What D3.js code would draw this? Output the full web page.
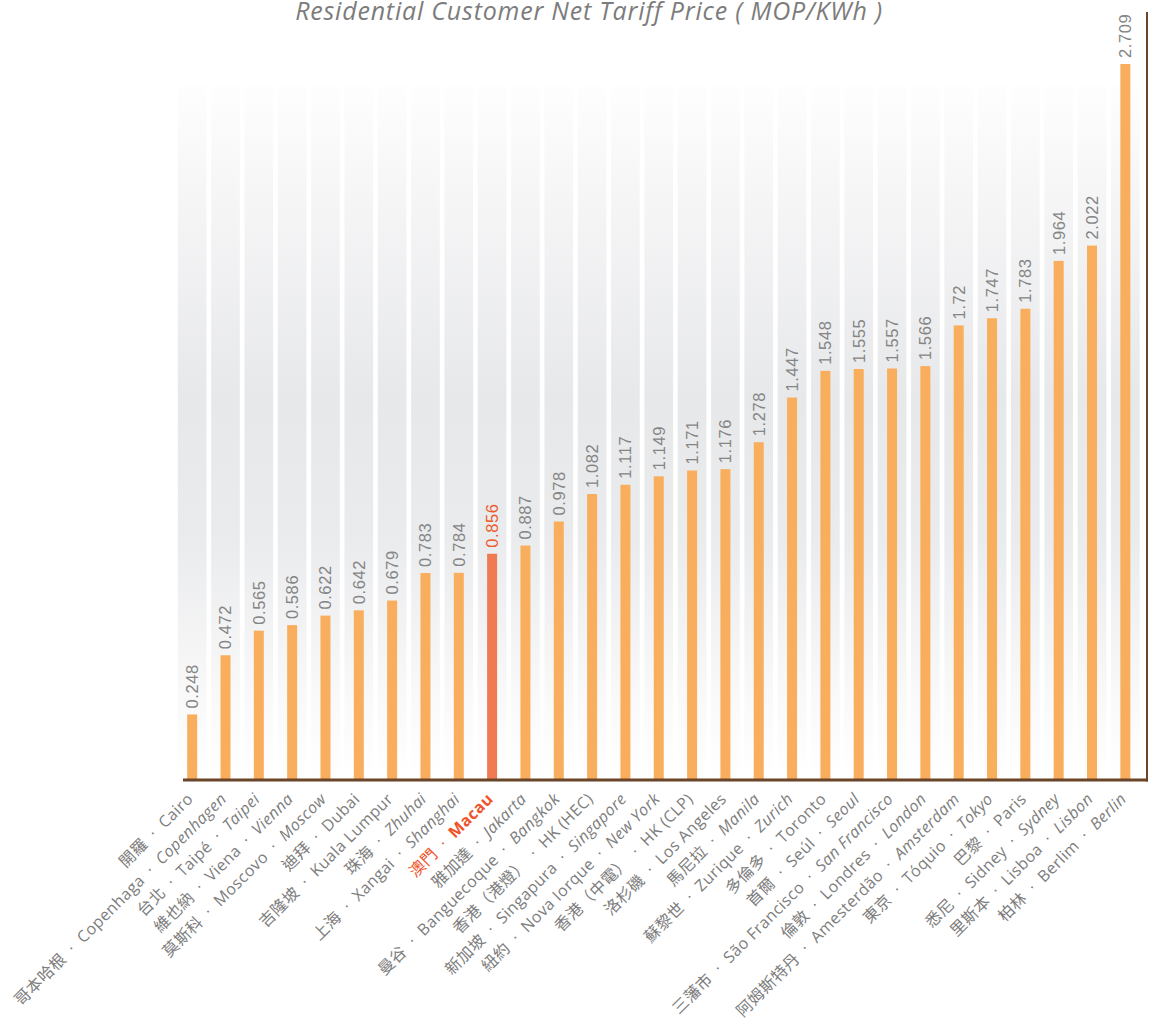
<!DOCTYPE html>
<html lang="en">
<head>
    <meta charset="UTF-8">
    <title>Residential Customer Net Tariff Price</title>
    <script src="https://d3js.org/d3.v7.min.js"></script>
    <style>
        body { margin: 0; background: #fff; }
        svg { display: block; }
    </style>
</head>
<body>
<div id="chart"></div>
<script>
    // city names: chinese, portuguese (may be empty), english
    const zhNames = ["開羅", "哥本哈根", "台北", "維也納", "莫斯科", "迪拜", "吉隆坡", "珠海", "上海", "澳門",
        "雅加達", "曼谷", "香港（港燈）", "新加坡", "紐約", "香港（中電）", "洛杉磯", "馬尼拉", "蘇黎世", "多倫多",
        "首爾", "三藩市", "倫敦", "阿姆斯特丹", "東京", "巴黎", "悉尼", "里斯本", "柏林"];
    const ptNames = ["", "Copenhaga", "Taipé", "Viena", "Moscovo", "", "", "", "Xangai", "",
        "", "Banguecoque", "", "Singapura", "Nova Iorque", "", "", "", "Zurique", "",
        "Seúl", "São Francisco", "Londres", "Amesterdão", "Tóquio", "", "Sidney", "Lisboa", "Berlim"];
    const enNames = ["Cairo", "Copenhagen", "Taipei", "Vienna", "Moscow", "Dubai", "Kuala Lumpur", "Zhuhai", "Shanghai", "Macau",
        "Jakarta", "Bangkok", "HK (HEC)", "Singapore", "New York", "HK (CLP)", "Los Angeles", "Manila", "Zurich", "Toronto",
        "Seoul", "San Francisco", "London", "Amsterdam", "Tokyo", "Paris", "Sydney", "Lisbon", "Berlin"];
    const enItalic = [false, true, true, true, true, false, false, true, true, false,
        true, true, false, true, true, false, false, true, true, false,
        true, true, true, true, true, false, true, true, true];
    const prices = [0.248, 0.472, 0.565, 0.586, 0.622, 0.642, 0.679, 0.783, 0.784, 0.856,
        0.887, 0.978, 1.082, 1.117, 1.149, 1.171, 1.176, 1.278, 1.447, 1.548,
        1.555, 1.557, 1.566, 1.72, 1.747, 1.783, 1.964, 2.022, 2.709];
    const priceLabels = ["0.248", "0.472", "0.565", "0.586", "0.622", "0.642", "0.679", "0.783", "0.784", "0.856",
        "0.887", "0.978", "1.082", "1.117", "1.149", "1.171", "1.176", "1.278", "1.447", "1.548",
        "1.555", "1.557", "1.566", "1.72", "1.747", "1.783", "1.964", "2.022", "2.709"];
    const highlight = "Macau";
    const chartTitle = "Residential Customer Net Tariff Price ( MOP/KWh )";

    const width = 1150, height = 1019;
    const axisLeft = 183, axisRight = 1147, baseY = 780, topY = 64;

    const x = d3.scaleBand()
        .domain(enNames)
        .range([175.5, 1142])
        .paddingInner(0.14)
        .paddingOuter(0.07);

    const y = d3.scaleLinear()
        .domain([0, d3.max(prices)])
        .range([baseY, topY]);

    const svg = d3.select("#chart")
        .append("svg")
        .attr("width", width)
        .attr("height", height);

    // soft grey column gradient
    const defs = svg.append("defs");
    const grad = defs.append("linearGradient")
        .attr("id", "colGrad")
        .attr("x1", 0).attr("y1", 0).attr("x2", 0).attr("y2", 1);
    grad.append("stop").attr("offset", "0%").attr("stop-color", "#fefefe");
    grad.append("stop").attr("offset", "15%").attr("stop-color", "#f6f6f7");
    grad.append("stop").attr("offset", "45%").attr("stop-color", "#e7e8ea");
    grad.append("stop").attr("offset", "65%").attr("stop-color", "#eaebed");
    grad.append("stop").attr("offset", "88%").attr("stop-color", "#f9f9f9");
    grad.append("stop").attr("offset", "100%").attr("stop-color", "#ffffff");

    const data = enNames.map((en, i) => ({
        en: en, zh: zhNames[i], pt: ptNames[i], italic: enItalic[i],
        value: prices[i], label: priceLabels[i]
    }));

    svg.append("g")
        .selectAll("rect")
        .data(data)
        .join("rect")
        .attr("x", d => x(d.en))
        .attr("y", 85)
        .attr("width", x.bandwidth())
        .attr("height", baseY - 85)
        .attr("fill", "url(#colGrad)");

    // bars
    const barW = 10;
    svg.append("g")
        .selectAll("rect")
        .data(data)
        .join("rect")
        .attr("x", d => x(d.en) + x.bandwidth() / 2 - barW / 2)
        .attr("y", d => y(d.value))
        .attr("width", barW)
        .attr("height", d => baseY - y(d.value))
        .attr("fill", d => d.en === highlight ? "#f07a52" : "#f9ae5d");

    // value labels
    svg.append("g")
        .selectAll("text")
        .data(data)
        .join("text")
        .attr("transform", d => `translate(${x(d.en) + x.bandwidth() / 2 + 6},${y(d.value) - 6}) rotate(-90)`)
        .attr("font-family", "'Liberation Sans', Arial, sans-serif")
        .attr("font-size", 16.5)
        .attr("letter-spacing", 0.6)
        .attr("fill", d => d.en === highlight ? "#ee5a2c" : "#858585")
        .text(d => d.label);

    // axis lines
    svg.append("line")
        .attr("x1", axisLeft).attr("x2", axisRight + 1)
        .attr("y1", baseY).attr("y2", baseY)
        .attr("stroke", "#6b4528").attr("stroke-width", 3);
    svg.append("line")
        .attr("x1", axisRight).attr("x2", axisRight)
        .attr("y1", 12).attr("y2", baseY + 1.5)
        .attr("stroke", "#6b4528").attr("stroke-width", 2);

    // category labels
    const labels = svg.append("g")
        .selectAll("text")
        .data(data)
        .join("text")
        .attr("transform", d => `translate(${x(d.en) + x.bandwidth() / 2 + 2},${baseY + 20}) rotate(-45)`)
        .attr("text-anchor", "end")
        .attr("font-family", "'Open Sans', 'Noto Sans CJK TC', sans-serif")
        .attr("font-size", 16)
        .attr("letter-spacing", 0.4)
        .attr("fill", d => d.en === highlight ? "#f0522a" : "#7d7d7d");

    labels.append("tspan")
        .attr("font-family", "'Noto Sans CJK TC', sans-serif")
        .attr("font-size", 16)
        .text(d => d.zh);
    labels.append("tspan")
        .attr("xml:space", "preserve")
        .text(d => d.pt ? "  ·  " + d.pt + "  ·  " : "  ·  ");
    labels.append("tspan")
        .attr("font-style", d => d.italic ? "italic" : "normal")
        .attr("font-weight", d => d.en === highlight ? "bold" : "normal")
        .text(d => d.en);

    // title
    svg.append("text")
        .attr("x", 589)
        .attr("y", 20)
        .attr("text-anchor", "middle")
        .attr("font-family", "'Open Sans', sans-serif")
        .attr("font-style", "italic")
        .attr("font-size", 25)
        .attr("letter-spacing", 0.8)
        .attr("fill", "#7c7c7c")
        .text(chartTitle);
</script>
</body>
</html>
